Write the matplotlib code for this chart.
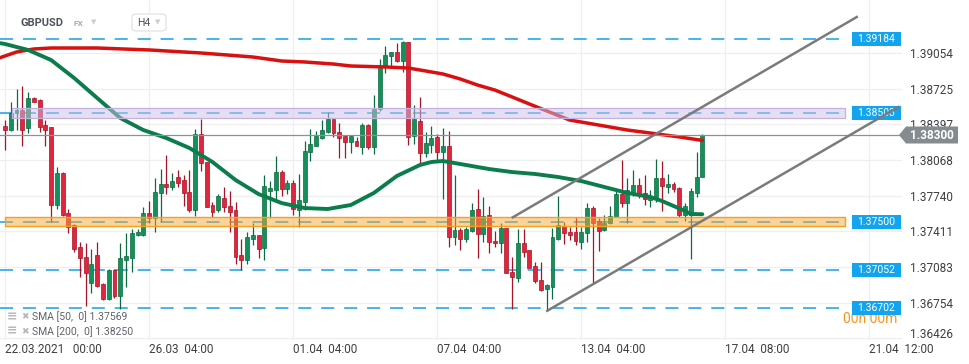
import matplotlib
matplotlib.use("Agg")
import matplotlib.pyplot as plt
from matplotlib.patches import Rectangle, Polygon, FancyBboxPatch
import numpy as np

plt.rcParams['font.family'] = ['Roboto', 'DejaVu Sans']

# ---------------- data ----------------
opens = [1.38383, 1.38346, 1.38503, 1.38531, 1.38365, 1.38641, 1.38623, 1.38392, 1.38374, 1.37654,
         1.37949, 1.37580, 1.37469, 1.37266, 1.37174, 1.36934, 1.37192, 1.36925, 1.36786, 1.37054,
         1.36814, 1.37146, 1.37165, 1.37377, 1.37377, 1.37580, 1.37534, 1.37765, 1.37848, 1.37820,
         1.37912, 1.37885, 1.37774, 1.37608, 1.38309, 1.38051, 1.37654, 1.37608, 1.37718, 1.37645,
         1.37608, 1.37192, 1.37146, 1.37340, 1.37377, 1.37257, 1.37783, 1.37792, 1.37958, 1.37802,
         1.37857, 1.37608, 1.37681, 1.38143, 1.38198, 1.38272, 1.38328, 1.38448, 1.38328, 1.38291,
         1.38235, 1.38245, 1.38189, 1.38392, 1.38189, 1.38540, 1.38928, 1.39029, 1.39066, 1.38983,
         1.39158, 1.38291, 1.38429, 1.38134, 1.38208, 1.38282, 1.38143, 1.38198, 1.37359, 1.37423,
         1.37340, 1.37414, 1.37617, 1.37386, 1.37562, 1.37322, 1.37303, 1.37442, 1.37035, 1.36980,
         1.37303, 1.37238, 1.37091, 1.36962, 1.36879, 1.36897, 1.37340, 1.37460, 1.37405, 1.37405,
         1.37312, 1.37395, 1.37626, 1.37506, 1.37423, 1.37488, 1.37543, 1.37755, 1.37672, 1.37755,
         1.37838, 1.37765, 1.37700, 1.37728, 1.37903, 1.37820, 1.37848, 1.37811, 1.37562, 1.37562,
         1.37765, 1.37912]
highs = [1.38438, 1.38605, 1.38725, 1.38752, 1.38697, 1.38651, 1.38632, 1.38438, 1.38374, 1.38005,
         1.37958, 1.37617, 1.37479, 1.37312, 1.37303, 1.37248, 1.37312, 1.36934, 1.37063, 1.37063,
         1.37303, 1.37395, 1.37432, 1.37432, 1.37635, 1.37691, 1.37903, 1.37986, 1.38115, 1.37949,
         1.37977, 1.37931, 1.37977, 1.38355, 1.38448, 1.38051, 1.37681, 1.37755, 1.37820, 1.37783,
         1.37681, 1.37340, 1.37405, 1.37488, 1.37377, 1.37931, 1.37875, 1.38106, 1.37977, 1.37885,
         1.37885, 1.37940, 1.38245, 1.38355, 1.38337, 1.38438, 1.38512, 1.38448, 1.38411, 1.38291,
         1.38291, 1.38282, 1.38411, 1.38402, 1.38669, 1.39001, 1.39121, 1.39066, 1.39149, 1.39168,
         1.39160, 1.38577, 1.38651, 1.38328, 1.38383, 1.38309, 1.38365, 1.38337, 1.37931, 1.37442,
         1.37451, 1.37672, 1.37802, 1.37728, 1.37645, 1.37414, 1.37488, 1.37442, 1.37174, 1.37432,
         1.37432, 1.37238, 1.37128, 1.37128, 1.36925, 1.37442, 1.37737, 1.37497, 1.37451, 1.37543,
         1.37451, 1.37672, 1.37645, 1.37534, 1.37562, 1.37645, 1.37802, 1.38069, 1.37903, 1.37977,
         1.37903, 1.37931, 1.37792, 1.38078, 1.38060, 1.37940, 1.37866, 1.37820, 1.37672, 1.37811,
         1.38143, 1.38309]
lows = [1.38162, 1.38337, 1.38346, 1.38198, 1.38318, 1.38605, 1.38328, 1.38198, 1.37497, 1.37617,
        1.37552, 1.37395, 1.37220, 1.36989, 1.36722, 1.36842, 1.36897, 1.36777, 1.36777, 1.36795,
        1.36694, 1.36897, 1.37035, 1.37368, 1.37368, 1.37488, 1.37405, 1.37497, 1.37755, 1.37792,
        1.37820, 1.37645, 1.37589, 1.37552, 1.37968, 1.37635, 1.37543, 1.37589, 1.37589, 1.37405,
        1.37109, 1.37054, 1.37109, 1.37285, 1.37165, 1.37146, 1.37534, 1.37700, 1.37737, 1.37755,
        1.37562, 1.37451, 1.37608, 1.38060, 1.38198, 1.38263, 1.38318, 1.38282, 1.38088, 1.38088,
        1.38134, 1.38198, 1.38125, 1.38171, 1.38125, 1.38522, 1.38872, 1.38937, 1.38974, 1.38881,
        1.38208, 1.38217, 1.38014, 1.38097, 1.38134, 1.38069, 1.37709, 1.37266, 1.37285, 1.37238,
        1.37312, 1.37405, 1.37165, 1.37312, 1.37211, 1.37266, 1.37211, 1.37026, 1.36694, 1.36943,
        1.37174, 1.37072, 1.36934, 1.36860, 1.36675, 1.36786, 1.37331, 1.37294, 1.37331, 1.37285,
        1.37248, 1.37312, 1.36925, 1.37229, 1.37414, 1.37479, 1.37543, 1.37635, 1.37488, 1.37737,
        1.37718, 1.37654, 1.37635, 1.37681, 1.37599, 1.37765, 1.37774, 1.37543, 1.37506, 1.37155,
        1.37728, 1.37912]
closes = [1.38346, 1.38503, 1.38531, 1.38346, 1.38641, 1.38605, 1.38374, 1.38346, 1.37654, 1.37949,
          1.37562, 1.37451, 1.37248, 1.37165, 1.37026, 1.37109, 1.36906, 1.36786, 1.37054, 1.36814,
          1.37165, 1.37183, 1.37395, 1.37405, 1.37580, 1.37534, 1.37774, 1.37848, 1.37820, 1.37875,
          1.37857, 1.37765, 1.37608, 1.38309, 1.38041, 1.37635, 1.37589, 1.37737, 1.37635, 1.37589,
          1.37174, 1.37146, 1.37359, 1.37377, 1.37248, 1.37829, 1.37811, 1.37958, 1.37802, 1.37857,
          1.37617, 1.37700, 1.38152, 1.38217, 1.38291, 1.38346, 1.38448, 1.38318, 1.38272, 1.38235,
          1.38291, 1.38198, 1.38392, 1.38189, 1.38540, 1.38937, 1.39038, 1.39066, 1.38983, 1.39158,
          1.38282, 1.38448, 1.38134, 1.38226, 1.38272, 1.38143, 1.38198, 1.37359, 1.37423, 1.37340,
          1.37432, 1.37608, 1.37386, 1.37552, 1.37312, 1.37303, 1.37442, 1.37026, 1.36989, 1.37303,
          1.37220, 1.37072, 1.36952, 1.36869, 1.36915, 1.37359, 1.37469, 1.37395, 1.37377, 1.37322,
          1.37405, 1.37626, 1.37488, 1.37414, 1.37488, 1.37552, 1.37755, 1.37672, 1.37792, 1.37838,
          1.37765, 1.37709, 1.37737, 1.37903, 1.37829, 1.37848, 1.37802, 1.37562, 1.37645, 1.37783,
          1.37912, 1.38300]

sma50_idx = [-1, 0, 4, 8, 12, 16, 20, 24, 28, 32, 36, 40, 44, 48, 52, 56, 60, 64, 68, 72,
             74, 76, 80, 84, 88, 92, 96, 100, 104, 108, 112, 114, 116, 118, 119, 121]
sma50_val = [1.39149, 1.39140, 1.39085, 1.38992, 1.38826, 1.38641, 1.38457, 1.38346, 1.38272, 1.38180,
             1.38051, 1.37885, 1.37755, 1.37672, 1.37626, 1.37617, 1.37654, 1.37765, 1.37922, 1.38023,
             1.38051, 1.38060, 1.38023, 1.37986, 1.37958, 1.37940, 1.37912, 1.37875, 1.37820, 1.37765,
             1.37728, 1.37691, 1.37645, 1.37599, 1.37571, 1.37569]
sma200_idx = [-1, 2, 5, 8, 16, 25, 34, 43, 48, 52, 57, 60, 66, 70, 73, 76, 79, 82, 85, 88,
              91, 94, 98, 103, 108, 112, 117, 121]
sma200_val = [1.39011, 1.39066, 1.39094, 1.39103, 1.39103, 1.39085, 1.39057, 1.39020, 1.38983, 1.38974,
              1.38955, 1.38937, 1.38928, 1.38918, 1.38891, 1.38863, 1.38817, 1.38761, 1.38715, 1.38651,
              1.38586, 1.38522, 1.38438, 1.38392, 1.38346, 1.38318, 1.38282, 1.38250]

channel_upper_x = [88.1, 147.8]
channel_upper_y = [1.37540, 1.39389]
channel_lower_x = [94.1, 155.0]
channel_lower_y = [1.36678, 1.38558]

level_vals = [1.39184, 1.38503, 1.37500, 1.37052, 1.36702]
level_labels = ["1.39184", "1.38503", "1.37500", "1.37052", "1.36702"]
zone_purple = (1.38454, 1.38546)
zone_orange = (1.37458, 1.37542)
current_price = 1.38300
current_label = "1.38300"

y_ticks = [1.36426, 1.36754, 1.37083, 1.37411, 1.37740, 1.38068, 1.38397, 1.38725, 1.39054]
y_tick_labels = ["1.36426", "1.36754", "1.37083", "1.37411", "1.37740", "1.38068", "1.38397", "1.38725", "1.39054"]
x_tick_idx = [0, 25, 50, 75, 100, 125, 150]
x_tick_labels = ["22.03.2021   00:00", "26.03  04:00", "01.04  04:00", "07.04  04:00",
                 "13.04  04:00", "17.04  08:00", "21.04  12:00"]

sma50_text = "SMA [50,  0] 1.37569"
sma200_text = "SMA [200,  0] 1.38250"

# ---------------- style ----------------
W, H = 970, 364
GREEN, GREEN_EDGE = '#14915b', '#0b6b40'
RED, RED_EDGE = '#e0263c', '#a81326'
LEVEL_BLUE = '#45b4ec'
LABEL_BLUE = '#12a4ee'
TXT = '#3c4043'

fig = plt.figure(figsize=(W / 100, H / 100), dpi=100)
fig.patch.set_facecolor('white')
ax = fig.add_axes([0, 24 / H, 902 / W, 340 / H])
ax.set_xlim(-0.868, 155.65)
ax.set_ylim(1.36408, 1.39546)
for s in ax.spines.values():
    s.set_visible(False)
ax.set_axisbelow(True)
ax.grid(True, color='#efefef', lw=0.9)

ax.yaxis.tick_right()
ax.set_yticks(y_ticks)
ax.set_yticklabels(y_tick_labels)
ax.tick_params(axis='y', length=0, pad=6, labelsize=8.5, labelcolor=TXT)
ax.yaxis.get_major_ticks()[0].label2.set_verticalalignment('baseline')
ax.set_xticks(x_tick_idx)
ax.set_xticklabels(x_tick_labels, ha='left')
ax.tick_params(axis='x', length=0, pad=2, labelsize=8.5, labelcolor=TXT)

# level dashed lines
x_lvl_end = 145.76
for v in level_vals:
    ax.plot([-0.868, x_lvl_end], [v, v], color=LEVEL_BLUE, lw=1.4,
            ls=(0, (6.7, 5.1)), zorder=1)

# candles
o = np.array(opens); hi = np.array(highs); lo = np.array(lows); c = np.array(closes)
xs = np.arange(len(o))
up = c >= o
blo = np.minimum(o, c)
bh = np.maximum(np.abs(c - o), 0.00008)
ax.vlines(xs[up], lo[up], hi[up], color=GREEN_EDGE, lw=0.9, zorder=2)
ax.vlines(xs[~up], lo[~up], hi[~up], color=RED_EDGE, lw=0.9, zorder=2)
ax.bar(xs[up], bh[up], bottom=blo[up], width=0.68, color=GREEN,
       edgecolor=GREEN_EDGE, lw=0.5, zorder=2.2)
ax.bar(xs[~up], bh[~up], bottom=blo[~up], width=0.68, color=RED,
       edgecolor=RED_EDGE, lw=0.5, zorder=2.2)

# SMAs
ax.plot(sma200_idx, sma200_val, color='#d81010', lw=2.5, zorder=2.6,
        solid_capstyle='round', solid_joinstyle='round')
ax.plot(sma50_idx, sma50_val, color='#0b7d4c', lw=2.8, zorder=2.6,
        solid_capstyle='round', solid_joinstyle='round')

# zones
ax.add_patch(Rectangle((1.2, zone_purple[0]), x_lvl_end - 1.2, zone_purple[1] - zone_purple[0],
                       facecolor='#cfc0e8', alpha=0.5, edgecolor='none', zorder=3))
ax.add_patch(Rectangle((1.2, zone_purple[0]), x_lvl_end - 1.2, zone_purple[1] - zone_purple[0],
                       facecolor='none', edgecolor='#c3b1e2', lw=0.9, zorder=3.05))
ax.add_patch(Rectangle((0, zone_orange[0]), x_lvl_end, zone_orange[1] - zone_orange[0],
                       facecolor='#fba83a', alpha=0.5, edgecolor='none', zorder=3))
ax.add_patch(Rectangle((0, zone_orange[0]), x_lvl_end, zone_orange[1] - zone_orange[0],
                       facecolor='none', edgecolor='#f5a11c', lw=1.0, zorder=3.05))

# current price line
ax.axhline(current_price, color='#8c9194', lw=0.9, zorder=3.5)

# ---- labels in pixel space ----
def ydisp(v):
    return ax.transData.transform((0, v))[1]

for v, lab in zip(level_vals, level_labels):
    yd = ydisp(v)
    ax.add_patch(Rectangle((852 / W, (yd - 7) / H), 49 / W, 14 / H, transform=fig.transFigure,
                           facecolor=LABEL_BLUE, edgecolor='none', clip_on=False, zorder=5))
    ax.text(876.5 / W, yd / H, lab, transform=fig.transFigure, ha='center', va='center',
            color='white', fontsize=7.5, clip_on=False, zorder=5.1)

# countdown text (partially hidden by the last label)
ax.text(843 / W, (H - 319) / H, "00h 00m", transform=fig.transFigure, ha='left', va='center',
        color='#f7941d', fontsize=10, zorder=4.9, clip_on=False)

# channel lines
ax.plot(channel_upper_x, channel_upper_y, color='#7b7b7b', lw=1.8, zorder=6, clip_on=False)
ax.plot(channel_lower_x, channel_lower_y, color='#7b7b7b', lw=1.8, zorder=6, clip_on=False)

# current price box
yc = ydisp(current_price)
pts = [(899, yc), (906, yc + 8.5), (958, yc + 8.5), (958, yc - 8.5), (906, yc - 8.5)]
ax.add_patch(Polygon([(px / W, py / H) for px, py in pts], closed=True, transform=fig.transFigure,
                     facecolor='#858c8f', edgecolor='none', clip_on=False, zorder=7))
ax.text(932 / W, yc / H, current_label, transform=fig.transFigure, ha='center', va='center',
        color='white', fontsize=8.5, fontweight='bold', clip_on=False, zorder=7.1)

# ---- header ----
fig.text(21 / W, 1 - 23 / H, "GBPUSD", fontsize=8, fontweight='bold', color='#4b5259', va='center')
fig.text(74 / W, 1 - 24 / H, "FX", fontsize=6, fontweight='bold', color='#a3abb2', va='center')
fig.text(91 / W, 1 - 22 / H, "▼", fontsize=5, color='#c9cdd1', va='center', family='DejaVu Sans')
fig.patches.append(FancyBboxPatch((132 / W, 1 - 31 / H), 34 / W, 17 / H,
                                  boxstyle='round,pad=0,rounding_size=0.006',
                                  transform=fig.transFigure, facecolor='white',
                                  edgecolor='#dcdfe2', lw=0.8, figure=fig))
fig.text(137 / W, 1 - 23 / H, "H4", fontsize=7.5, color='#4b5259', va='center')
fig.text(155 / W, 1 - 22 / H, "▼", fontsize=5, color='#c9cdd1', va='center', family='DejaVu Sans')

# ---- SMA legend ----
for ypx, txt in [(316.5, sma50_text), (331.5, sma200_text)]:
    fig.text(7 / W, 1 - ypx / H, "≡", fontsize=9, fontweight='bold', color='#b4b8bc',
             va='center', family='DejaVu Sans')
    fig.text(21 / W, 1 - ypx / H, "✖", fontsize=6.5, color='#b4b8bc', va='center',
             family='DejaVu Sans')
    fig.text(32 / W, 1 - ypx / H, txt, fontsize=7.5, color='#5f6368', va='center')

fig.savefig("out.png", dpi=100, facecolor='white')
